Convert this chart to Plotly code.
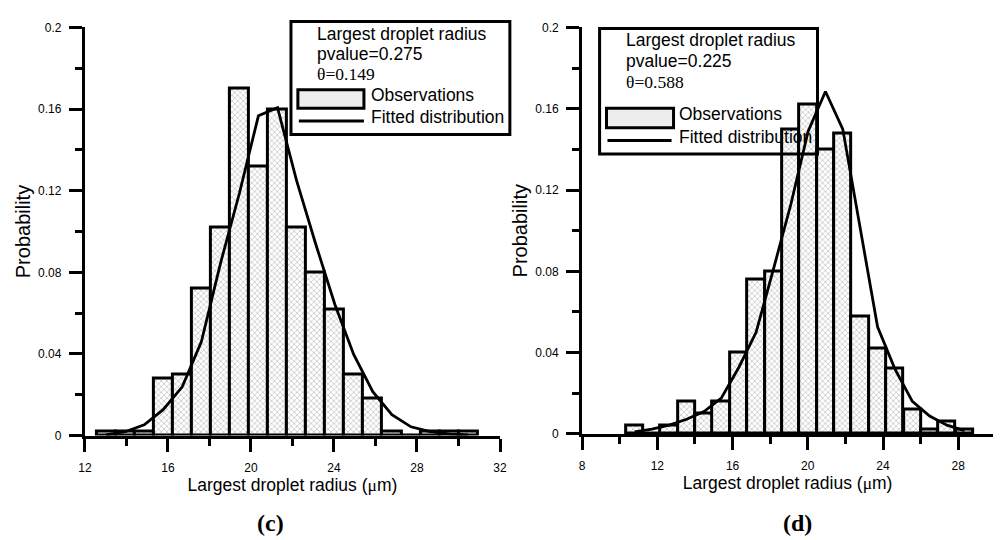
import plotly.graph_objects as go

# ---------------- data ----------------
# panel (c)
centers_c = [13.02, 13.94, 14.86, 15.77, 16.69, 17.61, 18.53, 19.45, 20.36, 21.28,
             22.20, 23.12, 24.04, 24.95, 25.87, 26.79, 27.71, 28.63, 29.55, 30.46]
prob_c = [0.002, 0.002, 0.002, 0.028, 0.030, 0.072, 0.102, 0.170, 0.132, 0.160,
          0.102, 0.080, 0.062, 0.030, 0.018, 0.002, 0.0, 0.002, 0.002, 0.002]
fit_c = [0.0003, 0.0019, 0.0053, 0.0127, 0.0239, 0.046, 0.0843, 0.119, 0.1567, 0.1607,
         0.1249, 0.0939, 0.0644, 0.0398, 0.0215, 0.0103, 0.0043, 0.0019, 0.0008, 0.0003]
width_c = 0.918

# panel (d)
centers_d = [10.79, 11.71, 12.63, 13.56, 14.48, 15.40, 16.33, 17.25, 18.17, 19.10,
             20.02, 20.94, 21.86, 22.79, 23.71, 24.63, 25.56, 26.48, 27.40, 28.33]
prob_d = [0.004, 0.0, 0.004, 0.016, 0.010, 0.016, 0.040, 0.076, 0.080, 0.150,
          0.162, 0.140, 0.148, 0.058, 0.042, 0.032, 0.012, 0.002, 0.006, 0.002]
fit_d = [0.001, 0.0024, 0.0043, 0.0072, 0.011, 0.0176, 0.0327, 0.050, 0.081, 0.113,
         0.149, 0.1685, 0.150, 0.102, 0.0527, 0.032, 0.016, 0.0088, 0.0043, 0.0016]
width_d = 0.923

y_ticks = [0, 0.04, 0.08, 0.12, 0.16, 0.2]
y_ticktext = ["0", "0.04", "0.08", "0.12", "0.16", "0.2"]
x_ticks_c = [12, 16, 20, 24, 28, 32]
x_ticks_d = [8, 12, 16, 20, 24, 28]

legend_c = ["Largest droplet radius", "pvalue=0.275", "θ=0.149"]
legend_d = ["Largest droplet radius", "pvalue=0.225", "θ=0.588"]

# ---------------- figure ----------------
W, H = 1001, 540
SANS = "Liberation Sans, Arial, sans-serif"
SERIF = "Liberation Serif, Times New Roman, serif"
XTITLE = 'Largest droplet radius (<span style="font-family:Liberation Serif">μ</span>m)'


def px(x):
    return x / W


def py(y):
    return 1 - y / H


bar_marker = dict(
    color="white",
    line=dict(color="black", width=3),
    pattern=dict(shape="x", size=4, fgcolor="#aaaaaa", bgcolor="white",
                 solidity=0.25, fillmode="replace"),
)

fig = go.Figure()
fig.add_trace(go.Bar(x=centers_c, y=prob_c, width=width_c, marker=bar_marker,
                     name="Observations", showlegend=False, xaxis="x", yaxis="y"))
fig.add_trace(go.Scatter(x=centers_c, y=fit_c, mode="lines",
                         line=dict(color="black", width=2.8),
                         name="Fitted distribution", showlegend=False,
                         xaxis="x", yaxis="y"))
fig.add_trace(go.Bar(x=centers_d, y=prob_d, width=width_d, marker=bar_marker,
                     name="Observations", showlegend=False, xaxis="x2", yaxis="y2"))
fig.add_trace(go.Scatter(x=centers_d, y=fit_d, mode="lines",
                         line=dict(color="black", width=2.8),
                         name="Fitted distribution", showlegend=False,
                         xaxis="x2", yaxis="y2"))

axis_common = dict(
    showline=True, linecolor="black", linewidth=3.2,
    ticks="outside", ticklen=13, tickwidth=3, tickcolor="black",
    showgrid=False, zeroline=False,
    tickfont=dict(family=SANS, size=12, color="black"),
    minor=dict(ticks="outside", ticklen=7, tickwidth=3, tickcolor="black", showgrid=False),
)

xt = dict(font=dict(family=SANS, size=17.5, color="black"), standoff=4)
yt = dict(font=dict(family=SANS, size=20, color="black"), standoff=3)

fig.update_layout(
    width=W, height=H,
    margin=dict(l=0, r=0, t=0, b=0),
    paper_bgcolor="white", plot_bgcolor="rgba(0,0,0,0)",
    showlegend=False,
    bargap=0,
    xaxis=dict(domain=[px(79), px(500)], range=[12, 32], anchor="y",
               tickvals=x_ticks_c, minor_dtick=2, ticklabelstandoff=6,
               title=dict(text=XTITLE, **xt),
               **axis_common),
    yaxis=dict(domain=[py(440), py(21)], range=[0, 0.2], anchor="x",
               tickvals=y_ticks, ticktext=y_ticktext, minor_dtick=0.02,
               ticklabelstandoff=5,
               title=dict(text="Probability", **yt),
               **axis_common),
    xaxis2=dict(domain=[px(583.3), px(1000)], range=[8, 29.85], anchor="y2",
                tickvals=x_ticks_d, minor_dtick=2, ticklabelstandoff=6,
                title=dict(text=XTITLE, **xt),
                **axis_common),
    yaxis2=dict(domain=[py(438.3), py(21)], range=[0, 0.2], anchor="x2",
                tickvals=y_ticks, ticktext=y_ticktext, minor_dtick=0.02,
                ticklabelstandoff=5,
                title=dict(text="Probability", **yt),
                **axis_common),
)

shapes = []
annotations = []


def add_legend(box, text_x, text_ys, swatch, item_x, item_ys, line_y, line_x, lines):
    x0, y0, x1, y1 = box
    shapes.append(dict(type="rect", xref="paper", yref="paper",
                       x0=px(x0), x1=px(x1), y0=py(y1), y1=py(y0),
                       line=dict(color="black", width=3), fillcolor="rgba(0,0,0,0)",
                       layer="above"))
    sx0, sy0, sx1, sy1 = swatch
    shapes.append(dict(type="rect", xref="paper", yref="paper",
                       x0=px(sx0), x1=px(sx1), y0=py(sy1), y1=py(sy0),
                       line=dict(color="black", width=3), fillcolor="#ededed",
                       layer="above"))
    shapes.append(dict(type="line", xref="paper", yref="paper",
                       x0=px(line_x[0]), x1=px(line_x[1]), y0=py(line_y), y1=py(line_y),
                       line=dict(color="black", width=3), layer="above"))
    for t, yy in zip(lines, text_ys):
        fam = SERIF if t.startswith("θ") else SANS
        annotations.append(dict(text=t, xref="paper", yref="paper", x=px(text_x), y=py(yy),
                                xanchor="left", yanchor="middle", showarrow=False,
                                font=dict(family=fam, size=17.5, color="black")))
    for t, yy in zip(["Observations", "Fitted distribution"], item_ys):
        annotations.append(dict(text=t, xref="paper", yref="paper", x=px(item_x), y=py(yy),
                                xanchor="left", yanchor="middle", showarrow=False,
                                font=dict(family=SANS, size=17.5, color="black")))


add_legend((288, 15, 510, 131), 312, [28, 48, 69], (295, 85, 362, 104),
           367, [90, 113], 117, (296, 362), legend_c)
add_legend((601, 22, 822, 151), 626, [34, 55, 77], (608, 104, 676, 124),
           680, [110, 133], 137, (609, 674), legend_d)

annotations.append(dict(text="<b>(c)</b>", xref="paper", yref="paper", x=px(267), y=py(530),
                        xanchor="center", yanchor="middle", showarrow=False,
                        font=dict(family=SERIF, size=24, color="black")))
annotations.append(dict(text="<b>(d)</b>", xref="paper", yref="paper", x=px(802), y=py(530),
                        xanchor="center", yanchor="middle", showarrow=False,
                        font=dict(family=SERIF, size=24, color="black")))

fig.update_layout(shapes=shapes, annotations=annotations)
fig.write_html("out.html")
